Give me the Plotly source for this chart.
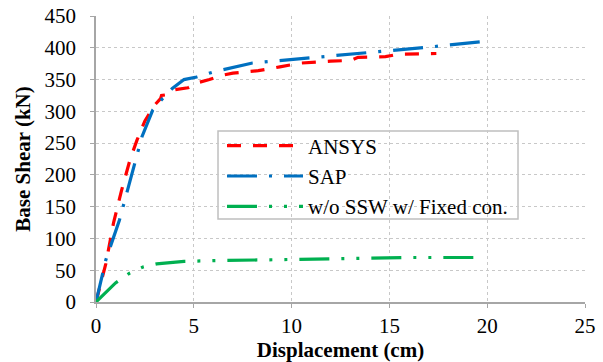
import plotly.graph_objects as go

ansys_x = [0, 0.5, 0.9, 1.3, 1.75, 2.1, 2.5, 3.0, 3.3, 3.35, 3.6, 4.0, 4.7, 5.2, 5.8, 6.5, 7.0, 8.3, 9.4, 10.5, 12.0, 13.0, 13.4, 14.8, 15.5, 17.4]
ansys_y = [0, 60, 125, 175, 225, 255, 285, 310, 320, 325, 326, 334, 337, 345, 350, 357, 360, 364, 370, 376, 379, 380, 385, 386, 390, 391]

sap_x = [0, 0.5, 1.2, 2.0, 2.35, 2.9, 3.4, 3.9, 4.5, 5.15, 6.0, 8.0, 11.0, 14.0, 17.0, 19.8]
sap_y = [0, 66, 129, 218, 260, 302, 320, 336, 350, 354, 362, 376, 384, 393, 401, 410]

ssw_x = [0, 1.0, 1.7, 2.4, 3.1, 4.5, 6.0, 8.0, 10.0, 12.0, 14.0, 16.0, 19.3]
ssw_y = [0, 30, 45, 55, 60, 64, 65, 66, 66, 67, 69, 70, 70]

x_ticks = [0, 5, 10, 15, 20, 25]
y_ticks = [0, 50, 100, 150, 200, 250, 300, 350, 400, 450]

font_family = "Liberation Serif"
FS = 21

fig = go.Figure()
fig.add_trace(go.Scatter(x=ansys_x, y=ansys_y, mode="lines", name="ANSYS", legendgroup="a",
                         line=dict(color="#FF0000", width=3.2, dash="14px,12px")))
fig.add_trace(go.Scatter(x=sap_x, y=sap_y, mode="lines", name="SAP", legendgroup="b",
                         line=dict(color="#0070C0", width=3.2, dash="30px,12px,3px,12px")))
fig.add_trace(go.Scatter(x=ssw_x, y=ssw_y, mode="lines", name="w/o SSW w/ Fixed con.", legendgroup="c",
                         line=dict(color="#00B050", width=3.2, dash="30px,12px,3px,12px,3px,12px")))

# legend frame
fig.add_shape(type="rect", xref="paper", yref="paper",
              x0=0.2495, x1=0.863, y0=0.2902, y1=0.5979,
              line=dict(color="#BFBFBF", width=1.5), fillcolor="white", layer="below")

fig.update_layout(
    width=603, height=362,
    margin=dict(l=96, r=18, t=16, b=60, autoexpand=False),
    paper_bgcolor="white", plot_bgcolor="white",
    font=dict(family=font_family, size=FS, color="black"),
    showlegend=True,
    legend=dict(x=0.2577, y=0.617, xanchor="left", yanchor="top",
                borderwidth=0, bgcolor="rgba(0,0,0,0)",
                font=dict(size=FS, family=font_family, color="black"), itemwidth=76,
                tracegroupgap=0),
    xaxis=dict(range=[0, 25], tickvals=x_ticks, showgrid=True,
               gridcolor="#C8C8C8", griddash="dot", gridwidth=1,
               showline=True, linecolor="#A6A6A6", linewidth=1.5,
               ticks="outside", ticklen=4, tickcolor="#A6A6A6",
               tickfont=dict(family=font_family, size=FS, color="black"),
               zeroline=False, automargin=False,
               title=dict(text="<b>Displacement (cm)</b>", standoff=0,
                          font=dict(size=FS, family=font_family, color="black"))),
    yaxis=dict(range=[0, 450], tickvals=y_ticks, showgrid=True,
               gridcolor="#C8C8C8", griddash="dot", gridwidth=1,
               showline=True, linecolor="#A6A6A6", linewidth=1.5,
               ticks="outside", ticklen=4, tickcolor="#A6A6A6",
               tickfont=dict(family=font_family, size=FS, color="black"),
               ticklabelstandoff=10,
               zeroline=False, automargin=False,
               title=dict(text="<b>Base Shear (kN)</b>", standoff=8,
                          font=dict(size=FS, family=font_family, color="black"))),
)

fig.write_html("out.html")
